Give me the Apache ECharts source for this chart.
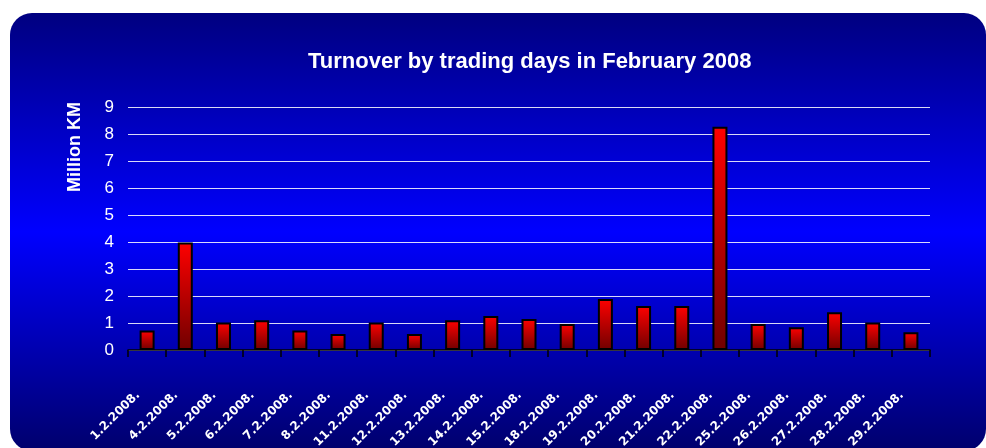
<!DOCTYPE html>
<html>
<head>
<meta charset="utf-8">
<script src="https://cdn.jsdelivr.net/npm/echarts@6/dist/echarts.min.js"></script>
<style>
  html, body { margin: 0; padding: 0; background: #fff; }
  #chart { width: 986px; height: 448px; }
</style>
</head>
<body>
<div id="chart"></div>
<script>
// trading days and turnover (million KM)
const days = [
  '1.2.2008.', '4.2.2008.', '5.2.2008.', '6.2.2008.', '7.2.2008.', '8.2.2008.',
  '11.2.2008.', '12.2.2008.', '13.2.2008.', '14.2.2008.', '15.2.2008.', '18.2.2008.',
  '19.2.2008.', '20.2.2008.', '21.2.2008.', '22.2.2008.', '25.2.2008.', '26.2.2008.',
  '27.2.2008.', '28.2.2008.', '29.2.2008.'
];
const turnover = [
  0.72, 3.98, 1.02, 1.1, 0.72, 0.59,
  1.02, 0.59, 1.1, 1.26, 1.15, 0.96,
  1.89, 1.63, 1.63, 8.27, 0.96, 0.84,
  1.4, 1.02, 0.66
];
const yTicks = [0, 9, 1]; // min, max, step

const chart = echarts.init(document.getElementById('chart'));
chart.setOption({
  animation: false,
  graphic: [
    {
      type: 'rect',
      z: -10,
      shape: { x: 10, y: 13, width: 976, height: 438, r: 22 },
      style: {
        fill: new echarts.graphic.LinearGradient(0, 0, 0, 1, [
          { offset: 0, color: '#000080' },
          { offset: 0.5, color: '#0000ff' },
          { offset: 1, color: '#00006c' }
        ])
      }
    },
    {
      type: 'text',
      x: 75,
      y: 147,
      rotation: Math.PI / 2,
      style: {
        text: 'Million KM',
        fill: '#fff',
        font: 'bold 18px "Liberation Sans", Arial, sans-serif',
        textAlign: 'center',
        textVerticalAlign: 'middle'
      }
    }
  ],
  title: {
    text: 'Turnover by trading days in February 2008',
    left: 303,
    top: 46,
    textStyle: {
      color: '#fff',
      fontSize: 22,
      fontWeight: 'bold',
      fontFamily: '"Liberation Sans", Arial, sans-serif'
    }
  },
  grid: { left: 128, right: 56, top: 107, bottom: 98, outerBoundsMode: 'none' },
  xAxis: {
    type: 'category',
    data: days,
    axisLine: { show: true, lineStyle: { color: '#000', width: 1.5 } },
    axisTick: { show: true, length: 7, lineStyle: { color: '#000', width: 1.5 } },
    axisLabel: {
      rotate: 45,
      margin: 34,
      padding: [0, 13, 0, 0],
      interval: 0,
      color: '#fff',
      fontSize: 12,
      fontWeight: 'bold',
      fontFamily: '"DejaVu Sans", sans-serif'
    }
  },
  yAxis: {
    type: 'value',
    min: yTicks[0],
    max: yTicks[1],
    interval: yTicks[2],
    axisLine: { show: false },
    axisTick: { show: false },
    axisLabel: {
      margin: 14,
      color: '#fff',
      fontSize: 17,
      fontFamily: '"Liberation Sans", Arial, sans-serif'
    },
    splitLine: { lineStyle: { color: 'rgba(255,255,255,0.85)', width: 1 } }
  },
  series: [
    {
      type: 'bar',
      data: turnover,
      barWidth: 15,
      itemStyle: {
        borderColor: '#000',
        borderWidth: 2,
        color: new echarts.graphic.LinearGradient(0, 0, 0, 1, [
          { offset: 0, color: '#ff0000' },
          { offset: 1, color: '#700000' }
        ])
      }
    }
  ]
});
</script>
</body>
</html>
